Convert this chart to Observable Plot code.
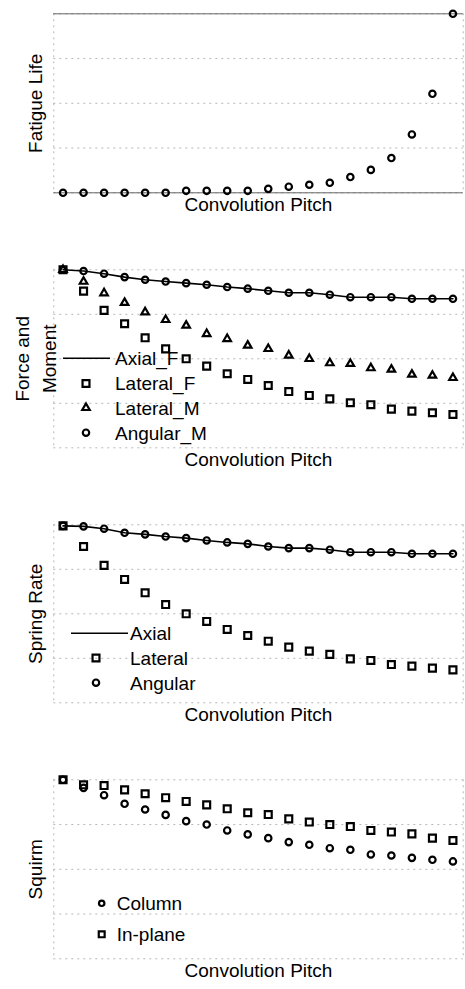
<!DOCTYPE html>
<html><head><meta charset="utf-8">
<script src="https://cdn.jsdelivr.net/npm/d3@7"></script>
<script src="https://cdn.jsdelivr.net/npm/@observablehq/plot@0.6"></script>
<style>
body{margin:0;background:#fff;width:465px;height:989px;overflow:hidden;font-family:"Liberation Sans",Arial,sans-serif}
#wrap{position:relative;width:465px;height:989px}
#wrap svg{position:absolute;left:0}
</style></head><body><div id="wrap"></div>
<script>
// ---- data (normalised 0..1 / 0..100) ----
const pitch = [1,2,3,4,5,6,7,8,9,10,11,12,13,14,15,16,17,18,19,20];
const xLabel = "Convolution Pitch";

const fatigueLife = [0,0,0,0,0,0,1.1,1.1,1.1,1.1,2.2,3.4,4.5,5.6,8.8,12.8,19.4,32.6,55.3,100];

const axialF   = [1,0.993,0.978,0.959,0.944,0.934,0.925,0.916,0.903,0.894,0.882,0.871,0.871,0.860,0.846,0.846,0.846,0.837,0.837,0.837];
const lateralF = [1,0.880,0.772,0.697,0.618,0.556,0.500,0.459,0.416,0.384,0.350,0.316,0.294,0.275,0.253,0.242,0.217,0.206,0.197,0.187];
const lateralM = [1,0.934,0.869,0.815,0.762,0.719,0.687,0.640,0.612,0.575,0.556,0.519,0.500,0.476,0.472,0.448,0.440,0.412,0.406,0.393];
const angularM = [1,0.993,0.978,0.959,0.944,0.934,0.925,0.916,0.903,0.894,0.882,0.871,0.871,0.860,0.846,0.846,0.846,0.837,0.837,0.837];
const forceLabels = ["Axial_F","Lateral_F","Lateral_M","Angular_M"];

const axialS   = [0.994,0.991,0.978,0.955,0.946,0.934,0.925,0.912,0.901,0.893,0.878,0.869,0.869,0.860,0.846,0.846,0.846,0.837,0.837,0.837];
const lateralS = [0.994,0.878,0.772,0.693,0.618,0.552,0.500,0.457,0.412,0.378,0.346,0.313,0.290,0.272,0.247,0.238,0.215,0.206,0.195,0.185];
const angularS = [0.994,0.991,0.978,0.955,0.946,0.934,0.925,0.912,0.901,0.893,0.878,0.869,0.869,0.860,0.846,0.846,0.846,0.837,0.837,0.837];
const springLabels = ["Axial","Lateral","Angular"];

const column  = [1,0.955,0.914,0.866,0.834,0.804,0.769,0.750,0.717,0.695,0.674,0.652,0.637,0.618,0.609,0.583,0.577,0.564,0.553,0.544];
const inPlane = [1,0.972,0.968,0.944,0.922,0.900,0.879,0.860,0.838,0.816,0.806,0.782,0.764,0.750,0.739,0.717,0.708,0.698,0.674,0.661];
const squirmLabels = ["Column","In-plane"];

const grid01 = [0,0.25,0.5,0.75,1];
const grid100 = [0,25,50,75,100];

// ---- helpers ----
const FONT = '"Liberation Sans", Arial, sans-serif';
const xDomain = [0.55, 20.5];
const rows = arr => pitch.map((p,i)=>({pitch:p, v:arr[i]}));
const symSize = {circle:3.2, square:3.9, triangle:2.8};
const SW = 2.2;

function dots(arr, symbol){
  return Plot.dot(rows(arr), {x:"pitch", y:"v", symbol, r:symSize[symbol], fill:"none", stroke:"#000", strokeWidth:SW});
}
function line(arr){
  return Plot.line(rows(arr), {x:"pitch", y:"v", stroke:"#000", strokeWidth:1.6});
}

function panel(cfg){
  const marks = [
    Plot.ruleY(cfg.grid, {stroke:"#999", strokeWidth:1, strokeDasharray:"2,4", strokeOpacity:0.7}),
    Plot.ruleX(xDomain, {stroke:"#999", strokeWidth:1, strokeDasharray:"2,4", strokeOpacity:0.7}),
    ...(cfg.solid ? [Plot.ruleY(cfg.solid, {stroke:"#666", strokeWidth:1})] : []),
    ...cfg.marks,
    Plot.text([xLabel], {frameAnchor:"bottom", dy:18, fontSize:19, fill:"#000", textAnchor:"middle"}),
    Plot.text([cfg.yLabel], {frameAnchor:"left", dx:cfg.ydx, rotate:-90, fontSize:19, lineHeight:1.42, fill:"#000", textAnchor:"middle", lineAnchor:"middle"})
  ];
  const svg = Plot.plot({
    width:465, height:cfg.height,
    marginTop:cfg.mt, marginBottom:cfg.height - cfg.mt - cfg.ph, marginLeft:53.3, marginRight:2.3,
    x:{domain:xDomain, axis:null},
    y:{domain:cfg.yDomain, axis:null},
    style:{fontFamily:FONT, background:"transparent", color:"#000", overflow:"visible"},
    marks
  });
  svg.style.top = cfg.top + "px";
  document.getElementById("wrap").appendChild(svg);
  // legend
  const g = d3.select(svg).append("g").attr("font-family", FONT).attr("font-size", 19).attr("text-anchor","start");
  (cfg.legend||[]).forEach(it=>{
    const y = it.y - cfg.top;
    if (it.kind === "line"){
      g.append("line").attr("x1", it.x1).attr("x2", it.x2).attr("y1", y).attr("y2", y)
        .attr("stroke","#000").attr("stroke-width",1.6);
    } else {
      const t = {circle:d3.symbolCircle, square:d3.symbolSquare, triangle:d3.symbolTriangle}[it.kind];
      const r = symSize[it.kind]*(it.scale||1);
      g.append("path").attr("d", d3.symbol(t, Math.PI*r*r)())
        .attr("transform", `translate(${it.sx},${y})`)
        .attr("fill","none").attr("stroke","#000").attr("stroke-width",SW);
    }
    g.append("text").attr("x", it.tx).attr("y", y).attr("dy","0.36em").attr("text-anchor","start").attr("fill","#000").text(it.label);
  });
}

// Panel 1: Fatigue Life
panel({
  top:0, height:235, mt:13.3, ph:179, yDomain:[0,100], grid:grid100, solid:[0,100],
  yLabel:"Fatigue Life", ydx:-20.3,
  marks:[dots(fatigueLife,"circle")]
});

// Panel 2: Force and Moment
panel({
  top:245, height:245, mt:24.3, ph:178, yDomain:[0,1], grid:grid01,
  yLabel:"Force and\nMoment", ydx:-19.8,
  marks:[line(axialF), dots(lateralF,"square"), dots(lateralM,"triangle"), dots(angularM,"circle")],
  legend:[
    {kind:"line", x1:63, x2:110, y:358.3, tx:115, label:forceLabels[0]},
    {kind:"square", sx:86, y:383.5, tx:115, label:forceLabels[1]},
    {kind:"triangle", sx:86, y:407.8, tx:115, label:forceLabels[2]},
    {kind:"circle", sx:86, y:432.7, tx:115, label:forceLabels[3]}
  ]
});

// Panel 3: Spring Rate
panel({
  top:500, height:245, mt:24.3, ph:178, yDomain:[0,1], grid:grid01,
  yLabel:"Spring Rate", ydx:-20,
  marks:[line(axialS), dots(lateralS,"square"), dots(angularS,"circle")],
  legend:[
    {kind:"line", x1:71, x2:128, y:633.3, tx:130, label:springLabels[0]},
    {kind:"square", sx:96, y:658, tx:130, label:springLabels[1]},
    {kind:"circle", sx:96, y:682.7, tx:130, label:springLabels[2]}
  ]
});

// Panel 4: Squirm
panel({
  top:755, height:234, mt:24.3, ph:179, yDomain:[0,1], grid:grid01,
  yLabel:"Squirm", ydx:-20.3,
  marks:[dots(column,"circle"), dots(inPlane,"square")],
  legend:[
    {kind:"circle", sx:101.7, y:903.3, tx:116.7, label:squirmLabels[0], scale:0.85},
    {kind:"square", sx:101.7, y:934.3, tx:116.7, label:squirmLabels[1], scale:0.85}
  ]
});
</script>
</body></html>
